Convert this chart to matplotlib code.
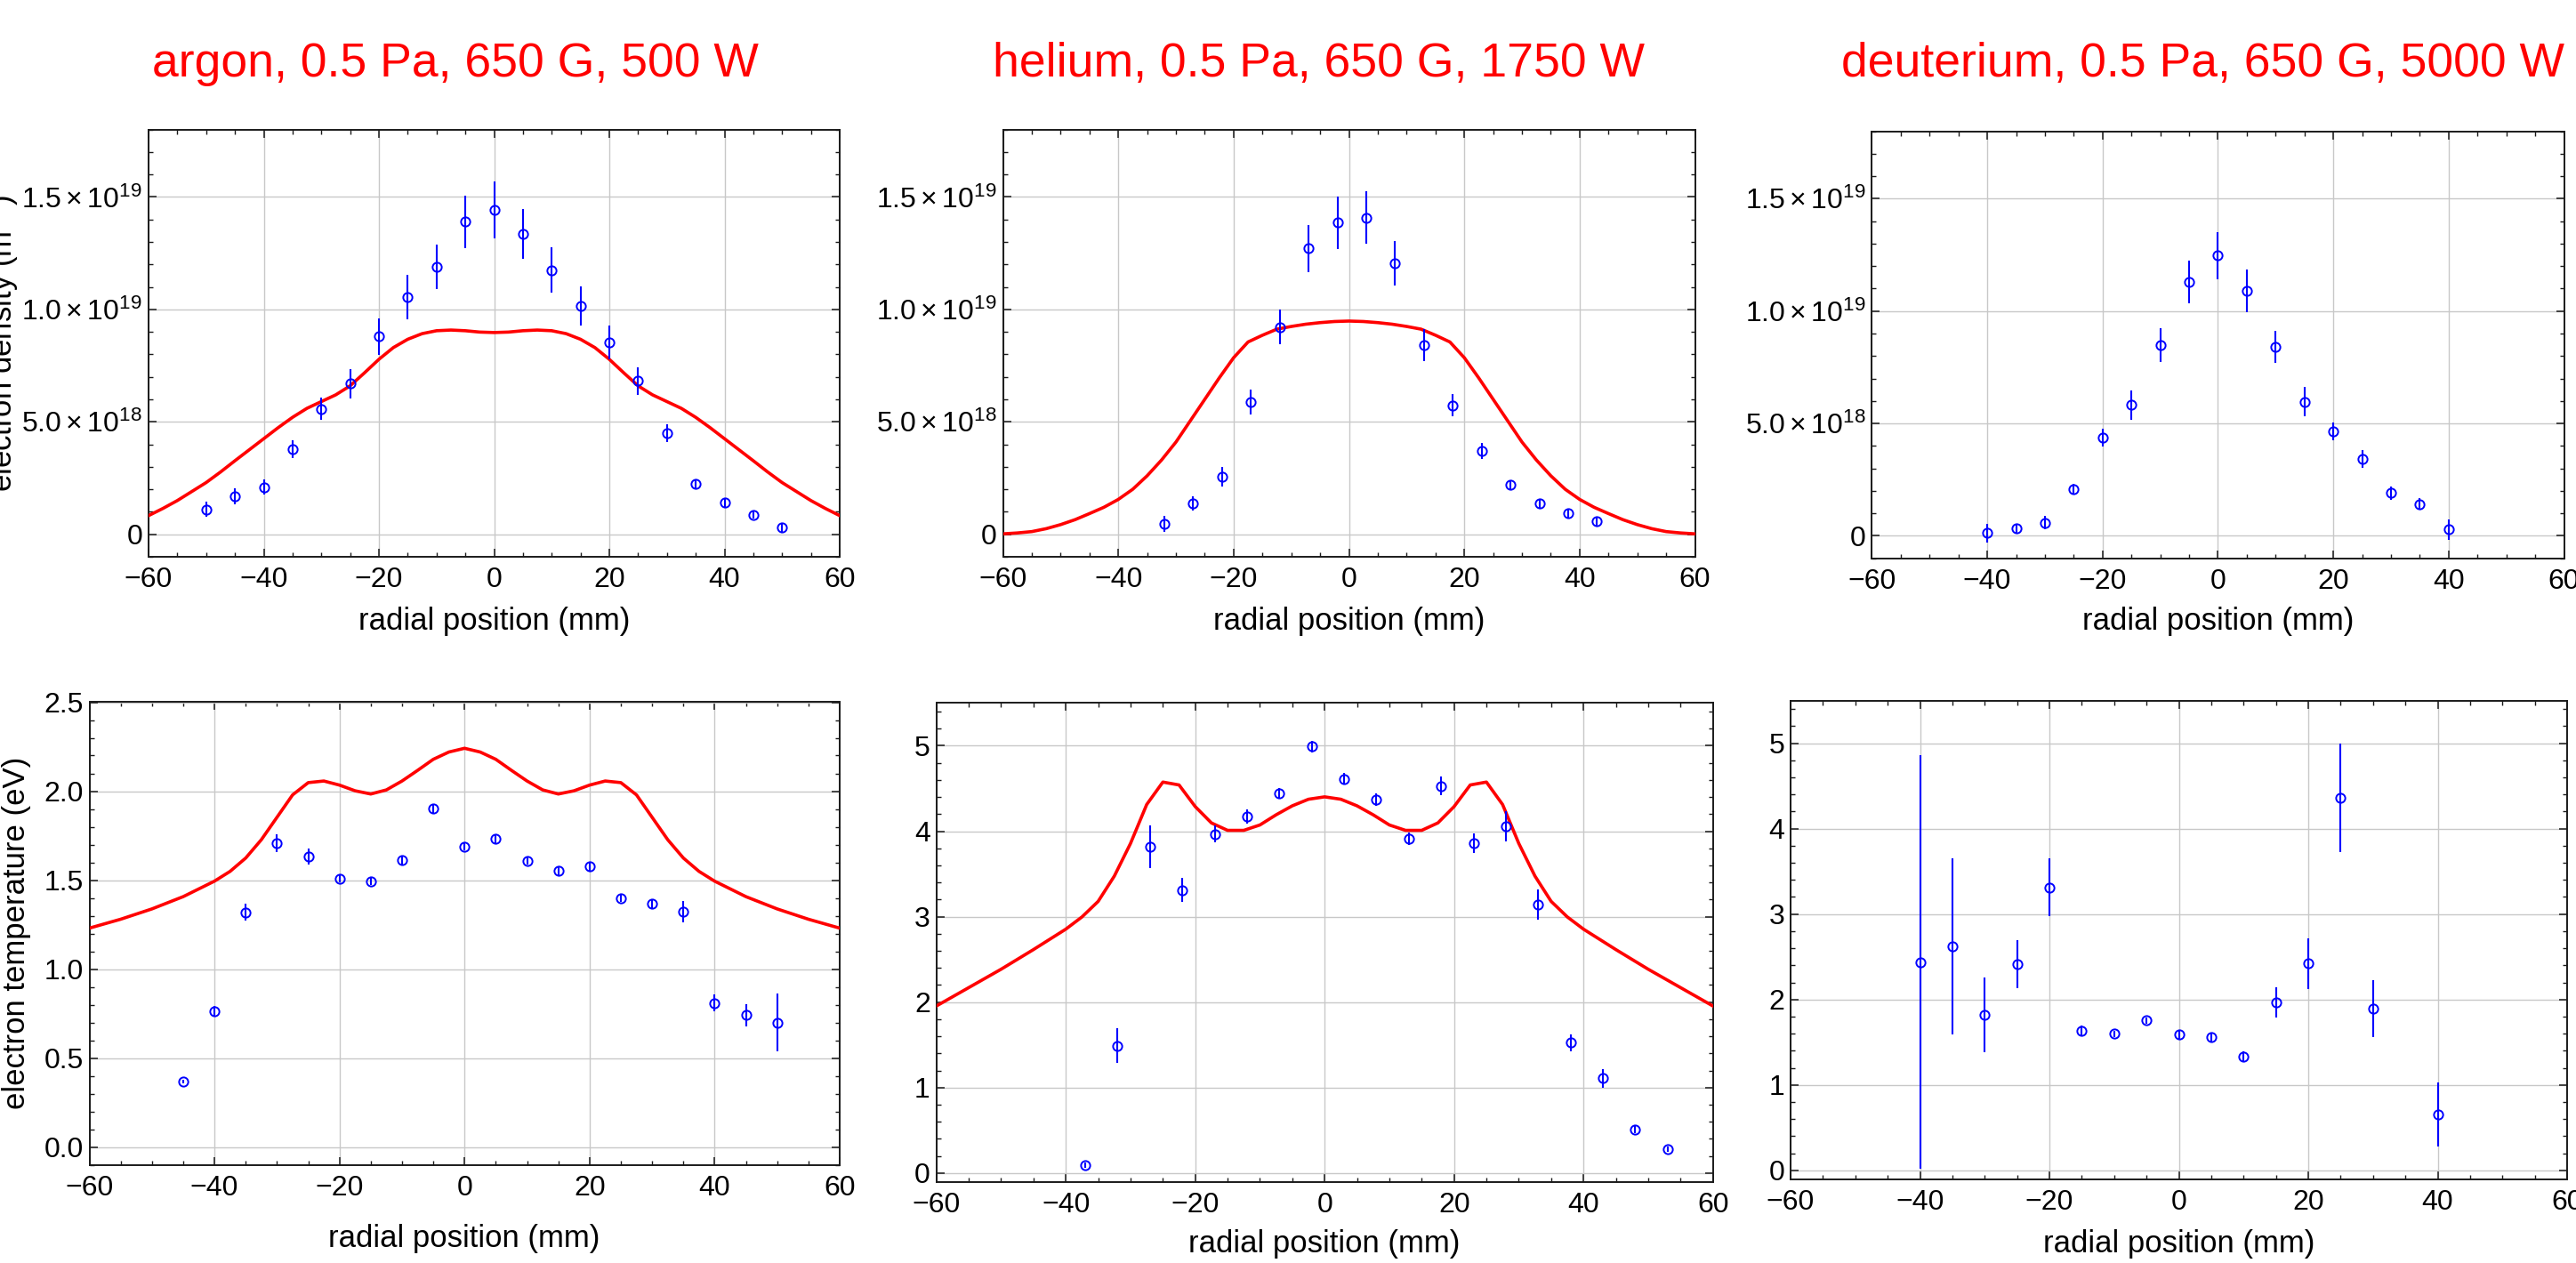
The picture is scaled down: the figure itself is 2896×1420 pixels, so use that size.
import matplotlib
matplotlib.use("Agg")
import matplotlib.pyplot as plt
from matplotlib.ticker import MultipleLocator, FixedLocator, FixedFormatter, FormatStrFormatter

plt.rcParams['font.family'] = ['Liberation Sans', 'DejaVu Sans']
plt.rcParams['mathtext.fontset'] = 'custom'
plt.rcParams['mathtext.rm'] = 'Liberation Sans'
plt.rcParams['mathtext.it'] = 'Liberation Sans:italic'
plt.rcParams['mathtext.bf'] = 'Liberation Sans:bold'

W, H = 2896, 1420

# ---------------- data ----------------
titles = ["argon, 0.5 Pa, 650 G, 500 W",
          "helium, 0.5 Pa, 650 G, 1750 W",
          "deuterium, 0.5 Pa, 650 G, 5000 W"]

# argon density (1e19 m^-3)
ar_n_x = [-50, -45, -40, -35, -30, -25, -20, -15, -10, -5, 0, 5, 10, 15, 20, 25, 30, 35, 40, 45, 50]
ar_n_y = [0.111, 0.17, 0.21, 0.377, 0.557, 0.67, 0.879, 1.054, 1.189, 1.389, 1.442, 1.336, 1.175,
          1.015, 0.854, 0.681, 0.449, 0.225, 0.142, 0.085, 0.032]
ar_n_e = [0.035, 0.035, 0.035, 0.04, 0.05, 0.065, 0.08, 0.1, 0.1, 0.115, 0.125, 0.11, 0.1,
          0.087, 0.075, 0.06, 0.04, 0.02, 0.02, 0.015, 0.02]
ar_nm_x = [-60, -57.5, -55, -52.5, -50, -47.5, -45, -42.5, -40, -37.5, -35, -32.5, -30, -27.5, -25,
           -22.5, -20, -17.5, -15, -12.5, -10, -7.5, -5, -2.5, 0, 2.5, 5, 7.5, 10, 12.5, 15, 17.5,
           20, 22.5, 25, 27.5, 30, 32.5, 35, 37.5, 40, 42.5, 45, 47.5, 50, 52.5, 55, 57.5, 60]
ar_nm_y = [0.083, 0.115, 0.15, 0.19, 0.23, 0.277, 0.327, 0.376, 0.425, 0.474, 0.52, 0.56, 0.59,
           0.62, 0.66, 0.718, 0.778, 0.83, 0.867, 0.892, 0.905, 0.908, 0.905, 0.899, 0.897,
           0.899, 0.905, 0.908, 0.905, 0.892, 0.867, 0.83, 0.778, 0.718, 0.66, 0.62, 0.59, 0.56,
           0.52, 0.474, 0.425, 0.376, 0.327, 0.277, 0.23, 0.19, 0.15, 0.115, 0.083]

# helium density
he_n_x = [-32, -27, -22, -17, -12, -7, -2, 3, 8, 13, 18, 23, 28, 33, 38, 43]
he_n_y = [0.046, 0.137, 0.256, 0.589, 0.921, 1.271, 1.385, 1.408, 1.205, 0.841, 0.573, 0.371,
          0.222, 0.138, 0.092, 0.059]
he_n_e = [0.035, 0.03, 0.045, 0.055, 0.077, 0.105, 0.117, 0.117, 0.1, 0.072, 0.05, 0.035,
          0.02, 0.02, 0.02, 0.02]
he_nm_x = ar_nm_x
he_nm_y = [0.002, 0.006, 0.012, 0.025, 0.043, 0.065, 0.092, 0.12, 0.155, 0.2, 0.26, 0.33, 0.41,
           0.505, 0.6, 0.695, 0.785, 0.855, 0.885, 0.912, 0.924, 0.934, 0.941, 0.946, 0.948,
           0.946, 0.941, 0.934, 0.924, 0.912, 0.885, 0.855, 0.785, 0.695, 0.6, 0.505, 0.41,
           0.33, 0.26, 0.2, 0.155, 0.12, 0.092, 0.065, 0.043, 0.025, 0.012, 0.006, 0.002]

# deuterium density
d_n_x = [-40, -35, -30, -25, -20, -15, -10, -5, 0, 5, 10, 15, 20, 25, 30, 35, 40]
d_n_y = [0.012, 0.032, 0.058, 0.207, 0.436, 0.583, 0.848, 1.129, 1.247, 1.09, 0.841, 0.597,
         0.465, 0.341, 0.191, 0.141, 0.028]
d_n_e = [0.04, 0.02, 0.03, 0.025, 0.04, 0.065, 0.075, 0.095, 0.104, 0.095, 0.07, 0.065,
         0.04, 0.04, 0.03, 0.025, 0.045]

# argon temperature (eV)
ar_t_x = [-45, -40, -35, -30, -25, -20, -15, -10, -5, 0, 5, 10, 15, 20, 25, 30, 35, 40, 45, 50]
ar_t_y = [0.367, 0.763, 1.32, 1.707, 1.633, 1.507, 1.494, 1.613, 1.904, 1.688, 1.734, 1.608,
          1.553, 1.576, 1.4, 1.37, 1.324, 0.809, 0.742, 0.699]
ar_t_e = [0.01, 0.03, 0.046, 0.05, 0.045, 0.02, 0.02, 0.025, 0.025, 0.02, 0.025, 0.02, 0.025,
          0.025, 0.02, 0.025, 0.06, 0.048, 0.062, 0.163]
t_m_x = [-60, -55, -50, -45, -40, -37.5, -35, -32.5, -30, -27.5, -25, -22.5, -20, -17.5, -15,
         -12.5, -10, -7.5, -5, -2.5, 0, 2.5, 5, 7.5, 10, 12.5, 15, 17.5, 20, 22.5, 25, 27.5, 30,
         32.5, 35, 37.5, 40, 45, 50, 55, 60]
ar_tm_y = [1.23, 1.28, 1.338, 1.407, 1.494, 1.549, 1.624, 1.727, 1.853, 1.979, 2.048, 2.057,
           2.034, 2.002, 1.984, 2.007, 2.057, 2.117, 2.179, 2.22, 2.241, 2.22, 2.179, 2.117,
           2.057, 2.007, 1.984, 2.002, 2.034, 2.057, 2.048, 1.979, 1.853, 1.727, 1.624, 1.549,
           1.494, 1.407, 1.338, 1.28, 1.23]

# helium temperature
he_t_x = [-37, -32, -27, -22, -17, -12, -7, -2, 3, 8, 13, 18, 23, 28, 33, 38, 43, 48, 53]
he_t_y = [0.091, 1.491, 3.819, 3.313, 3.967, 4.173, 4.44, 4.99, 4.613, 4.369, 3.91, 4.527,
          3.862, 4.058, 3.145, 1.525, 1.109, 0.507, 0.282]
he_t_e = [0.03, 0.205, 0.25, 0.145, 0.1, 0.08, 0.06, 0.07, 0.07, 0.07, 0.07, 0.11, 0.115,
          0.18, 0.175, 0.1, 0.11, 0.04, 0.03]
he_tm_y = [1.955, 2.17, 2.385, 2.615, 2.854, 2.997, 3.179, 3.475, 3.857, 4.312, 4.575, 4.541,
           4.288, 4.097, 4.01, 4.01, 4.073, 4.192, 4.297, 4.374, 4.402, 4.374, 4.297, 4.192,
           4.073, 4.01, 4.01, 4.097, 4.288, 4.541, 4.575, 4.312, 3.857, 3.475, 3.179, 2.997,
           2.854, 2.615, 2.385, 2.17, 1.955]

# deuterium temperature
d_t_x = [-40, -35, -30, -25, -20, -15, -10, -5, 0, 5, 10, 15, 20, 25, 30, 40]
d_t_y = [2.438, 2.624, 1.821, 2.414, 3.313, 1.635, 1.597, 1.754, 1.592, 1.563, 1.329, 1.965,
         2.419, 4.36, 1.893, 0.655]
d_t_e = [2.42, 1.03, 0.435, 0.28, 0.335, 0.06, 0.04, 0.04, 0.05, 0.05, 0.06, 0.175, 0.295,
         0.63, 0.33, 0.37]

dens_ticks = [0, 5e18, 1e19, 1.5e19]
dens_labels = ['0', r'$5.0\times10^{18}$', r'$1.0\times10^{19}$', r'$1.5\times10^{19}$']
x_ticks = [-60, -40, -20, 0, 20, 40, 60]

# ---------------- figure ----------------
fig = plt.figure(figsize=(W / 100, H / 100), dpi=100)
fig.patch.set_facecolor('white')


def add_ax(l, t, r, b):
    return fig.add_axes([l / W, 1 - b / H, (r - l) / W, (b - t) / H])


boxes = [(167, 145.5, 944, 626), (1127.5, 145.5, 1905.6, 626), (2104.4, 147.5, 2882.5, 627.7),
         (100.5, 789.5, 944, 1309.5), (1052.7, 790.4, 1925.7, 1328.5), (2013, 787.5, 2886, 1325.5)]
axs = [add_ax(*bx) for bx in boxes]

RED = (1, 0, 0)
BLUE = (0, 0, 1)
SCALE = 1e19


def style(ax):
    ax.set_xlim(-60, 60)
    ax.xaxis.set_major_locator(FixedLocator(x_ticks))
    ax.xaxis.set_minor_locator(MultipleLocator(5))
    ax.grid(True, which='major', color='#c8c8c8', linewidth=1.0, zorder=0)
    ax.set_axisbelow(True)
    for s in ax.spines.values():
        s.set_linewidth(1.4)
        s.set_color('#1a1a1a')
    ax.tick_params(which='both', direction='in', top=True, right=True, colors='#1a1a1a',
                   labelcolor='black', labelsize=23)
    ax.tick_params(which='major', length=6.5, width=1.1)
    ax.tick_params(which='minor', length=3.6, width=1.0)
    ax.tick_params(axis='x', pad=8)
    ax.tick_params(axis='y', pad=5)


def pts(ax, x, y, e, scale=1.0):
    ax.errorbar(x, [v * scale for v in y], yerr=[v * scale for v in e], fmt='o',
                mfc='none', mec=BLUE, ms=7.4, mew=1.4, ecolor=BLUE, elinewidth=1.5,
                capsize=0, zorder=4)


def model(ax, x, y, scale=1.0):
    ax.plot(x, [v * scale for v in y], color=RED, lw=2.6, zorder=3)


# top row: density
for ax in axs[:3]:
    style(ax)
    ax.set_ylim(-1e18, 1.8e19)
    ax.yaxis.set_major_locator(FixedLocator(dens_ticks))
    ax.yaxis.set_major_formatter(FixedFormatter(dens_labels))
    ax.yaxis.set_minor_locator(MultipleLocator(1e18))

model(axs[0], ar_nm_x, ar_nm_y, SCALE)
pts(axs[0], ar_n_x, ar_n_y, ar_n_e, SCALE)
model(axs[1], he_nm_x, he_nm_y, SCALE)
pts(axs[1], he_n_x, he_n_y, he_n_e, SCALE)
pts(axs[2], d_n_x, d_n_y, d_n_e, SCALE)

# bottom row: temperature
style(axs[3])
axs[3].set_ylim(-0.1, 2.5)
axs[3].yaxis.set_major_locator(MultipleLocator(0.5))
axs[3].yaxis.set_minor_locator(MultipleLocator(0.1))
axs[3].yaxis.set_major_formatter(FormatStrFormatter('%.1f'))
model(axs[3], t_m_x, ar_tm_y)
pts(axs[3], ar_t_x, ar_t_y, ar_t_e)

for ax in axs[4:]:
    style(ax)
    ax.set_ylim(-0.1, 5.5)
    ax.yaxis.set_major_locator(MultipleLocator(1))
    ax.yaxis.set_minor_locator(MultipleLocator(0.2))
    ax.yaxis.set_major_formatter(FormatStrFormatter('%d'))
model(axs[4], t_m_x, he_tm_y)
pts(axs[4], he_t_x, he_t_y, he_t_e)
pts(axs[5], d_t_x, d_t_y, d_t_e)

# titles
for cx, t in zip([512, 1483, 2476], titles):
    fig.text(cx / W, 1 - 86 / H, t, color=RED, fontsize=38.5, ha='center', va='baseline')

# x labels
xl_pos = [(555.5, 708), (1516.5, 708), (2493.5, 708), (522, 1402), (1489, 1408), (2449.5, 1408)]
for cx, by in xl_pos:
    fig.text(cx / W, 1 - by / H, 'radial position (mm)', fontsize=25, ha='center', va='baseline')

# y labels
fig.text(14 / W, 1 - 386 / H, r'electron density (m$^{-3}$)', fontsize=25, rotation=90,
         rotation_mode='anchor', ha='center', va='baseline')
fig.text(28 / W, 1 - 1049 / H, 'electron temperature (eV)', fontsize=25, rotation=90,
         rotation_mode='anchor', ha='center', va='baseline')

fig.savefig('out.png', dpi=100, facecolor='white')
